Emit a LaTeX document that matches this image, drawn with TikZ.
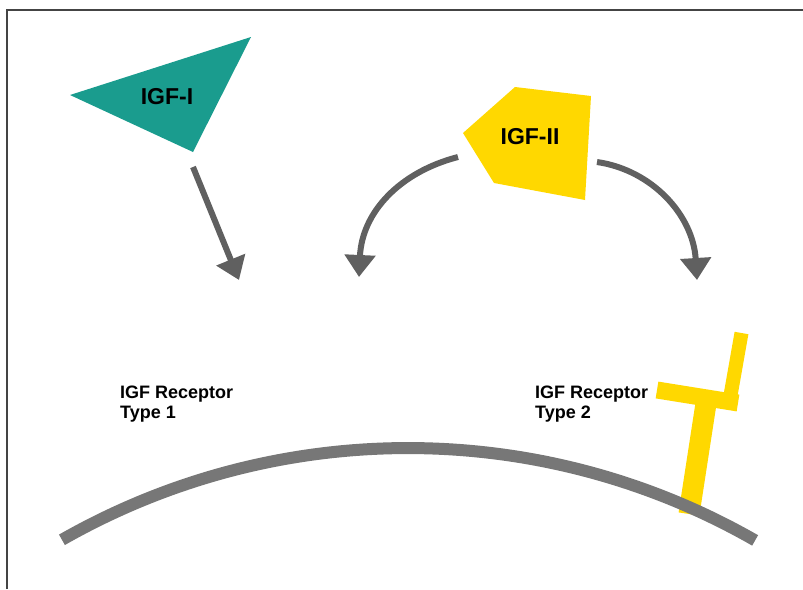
\documentclass[tikz,border=0pt]{standalone}
\usepackage{fontspec}
\setmainfont{Liberation Sans}
\usetikzlibrary{arrows.meta}
\definecolor{teal1}{HTML}{1A9C8E}
\definecolor{yell}{HTML}{FFD800}
\definecolor{arrgray}{HTML}{606060}
\definecolor{memgray}{HTML}{777777}
\definecolor{framegray}{HTML}{444444}
\tikzset{
  flow/.style={draw=arrgray, line width=6pt, -{Triangle[length=22pt,width=30pt]}},
  lbl/.style={font=\bfseries\fontsize{23}{26}\selectfont, inner sep=0pt},
  rlbl/.style={font=\bfseries\fontsize{18}{20}\selectfont, inner sep=0pt, align=left, anchor=north west},
  recbar/.style={draw=yell, line cap=butt}
}
\begin{document}
\begin{tikzpicture}[x=1pt,y=-1pt]
\useasboundingbox (0,0) rectangle (803,589);
% frame
\draw[framegray, line width=2pt] (7,589) -- (7,10) -- (803,10);
% IGF-I triangle
\fill[teal1] (70,95) -- (251,37) -- (193,152) -- cycle;
\node[lbl] (igf1) at (167,97) {IGF-I};
% IGF-II pentagon
\fill[yell] (463,133) -- (515,87) -- (591,96) -- (585,200) -- (494,183) -- cycle;
\node[lbl] (igf2) at (530,137) {IGF-II};
% arrow endpoints
\coordinate (a1s) at (193,167);
\coordinate (a1e) at (239,280);
\coordinate (a2s) at (458,157);
\coordinate (a2e) at (359,277);
\coordinate (a3s) at (597,162);
\coordinate (a3e) at (697,280);
\draw[flow] (a1s) -- (a1e);
\draw[flow] (a2s) .. controls (400,172) and (362,212) .. (a2e);
\draw[flow] (a3s) .. controls (652,170) and (693,215) .. (a3e);
% receptor type 2
\draw[recbar, line width=21pt] (689,514) -- (707,397);
\draw[recbar, line width=17pt] (657,390) -- (738,403);
\draw[recbar, line width=14pt] (729,404) -- (741.5,333);
% membrane
\coordinate (mc) at (408,1146.5);
\draw[memgray, line width=12pt] (mc) ++(-119.7:698.5) arc[start angle=-119.7, end angle=-60.2, radius=698.5];
% labels
\node[rlbl] (r1) at (120,386) {IGF Receptor\\Type 1};
\node[rlbl] (r2) at (535,386) {IGF Receptor\\Type 2};
\end{tikzpicture}
\end{document}
